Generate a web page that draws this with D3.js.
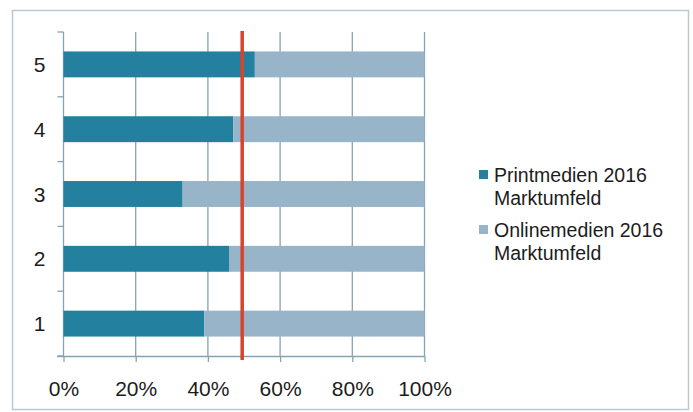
<!DOCTYPE html>
<html>
<head>
<meta charset="utf-8">
<script src="https://cdn.jsdelivr.net/npm/d3@7"></script>
<style>
  body { margin: 0; background: #fff; }
  svg { display: block; font-family: "Liberation Sans", Arial, sans-serif; }
</style>
</head>
<body>
<div id="chart"></div>
<script>
// data
var categories = ["5", "4", "3", "2", "1"];
var printValues = [53, 47, 33, 46, 39];
var onlineValues = [47, 53, 67, 54, 61];
var xTicks = [0, 20, 40, 60, 80, 100];
var seriesNames = [["Printmedien 2016", "Marktumfeld"], ["Onlinemedien 2016", "Marktumfeld"]];
var referenceLine = 49.5;

var W = 693, H = 412;
var colors = ["#23809f", "#98b4c8"];
var gridColor = "#86a3b4";
var textColor = "#1c1c1c";

var svg = d3.select("#chart")
    .append("svg")
        .attr("width", W)
        .attr("height", H);

// outer frame
svg.append("rect")
    .attr("x", 12.5).attr("y", 10.5)
    .attr("width", 676).attr("height", 399)
    .attr("fill", "#fff")
    .attr("stroke", "#b8c9d3")
    .attr("stroke-width", 1.5);

var x = d3.scaleLinear()
    .domain([0, 100])
    .range([63.5, 424.5]);

var y = d3.scaleBand()
    .domain(categories)
    .range([32, 356])
    .paddingInner(0.6)
    .paddingOuter(0.3);

// vertical gridlines
svg.append("g")
    .selectAll("line")
    .data(xTicks.slice(1))
    .join("line")
        .attr("x1", d => x(d)).attr("x2", d => x(d))
        .attr("y1", 32).attr("y2", 356)
        .attr("stroke", gridColor)
        .attr("stroke-width", 1.3);

// bottom axis
var xAxis = svg.append("g")
    .attr("transform", "translate(0,356)")
    .call(d3.axisBottom(x)
        .tickValues(xTicks)
        .tickSize(6)
        .tickPadding(19)
        .tickFormat(d => d + "%"));
xAxis.select(".domain").attr("stroke", gridColor).attr("stroke-width", 1.3)
    .attr("d", "M57,0.5H424.5");
xAxis.selectAll(".tick line").attr("stroke", gridColor).attr("stroke-width", 1.3);
xAxis.selectAll(".tick text")
    .attr("fill", textColor)
    .style("font-size", "21px")
    .style("font-family", "'Liberation Sans', Arial, sans-serif");

// left axis: line + ticks at band boundaries
var boundaries = d3.range(categories.length + 1).map(i => 32 + i * y.step());
var yAxis = svg.append("g");
yAxis.append("line")
    .attr("x1", x(0)).attr("x2", x(0))
    .attr("y1", 32).attr("y2", 356)
    .attr("stroke", gridColor).attr("stroke-width", 1.3);
yAxis.selectAll(".tk")
    .data(boundaries)
    .join("line")
        .attr("class", "tk")
        .attr("x1", x(0) - 6).attr("x2", x(0))
        .attr("y1", d => d).attr("y2", d => d)
        .attr("stroke", gridColor).attr("stroke-width", 1.3);
yAxis.selectAll("text")
    .data(categories)
    .join("text")
        .attr("x", 45.5)
        .attr("y", d => y(d) + y.bandwidth() / 2)
        .attr("dy", "0.36em")
        .attr("text-anchor", "end")
        .attr("fill", textColor)
        .style("font-size", "21px")
        .text(d => d);

// stacked bars
var rows = categories.map((c, i) => ({ cat: c, print: printValues[i], online: onlineValues[i] }));
var bars = svg.append("g");
bars.selectAll(".print")
    .data(rows)
    .join("rect")
        .attr("class", "print")
        .attr("x", x(0))
        .attr("y", d => y(d.cat))
        .attr("width", d => x(d.print) - x(0))
        .attr("height", y.bandwidth())
        .attr("fill", colors[0]);
bars.selectAll(".online")
    .data(rows)
    .join("rect")
        .attr("class", "online")
        .attr("x", d => x(d.print))
        .attr("y", d => y(d.cat))
        .attr("width", d => x(d.print + d.online) - x(d.print))
        .attr("height", y.bandwidth())
        .attr("fill", colors[1]);

// red reference line
svg.append("line")
    .attr("x1", x(referenceLine)).attr("x2", x(referenceLine))
    .attr("y1", 31).attr("y2", 360)
    .attr("stroke", "#d8432b")
    .attr("stroke-width", 3.5);

// legend
var legend = svg.append("g");
var legendY = [182, 237];
seriesNames.forEach(function(lines, i) {
    legend.append("rect")
        .attr("x", 479).attr("y", legendY[i] - 12)
        .attr("width", 9).attr("height", 9)
        .attr("fill", colors[i]);
    var t = legend.append("text")
        .attr("x", 494).attr("y", legendY[i])
        .attr("fill", textColor)
        .style("font-size", "19.5px");
    lines.forEach(function(l, j) {
        t.append("tspan")
            .attr("x", 494)
            .attr("dy", j === 0 ? 0 : 22.5)
            .text(l);
    });
});
</script>
</body>
</html>
